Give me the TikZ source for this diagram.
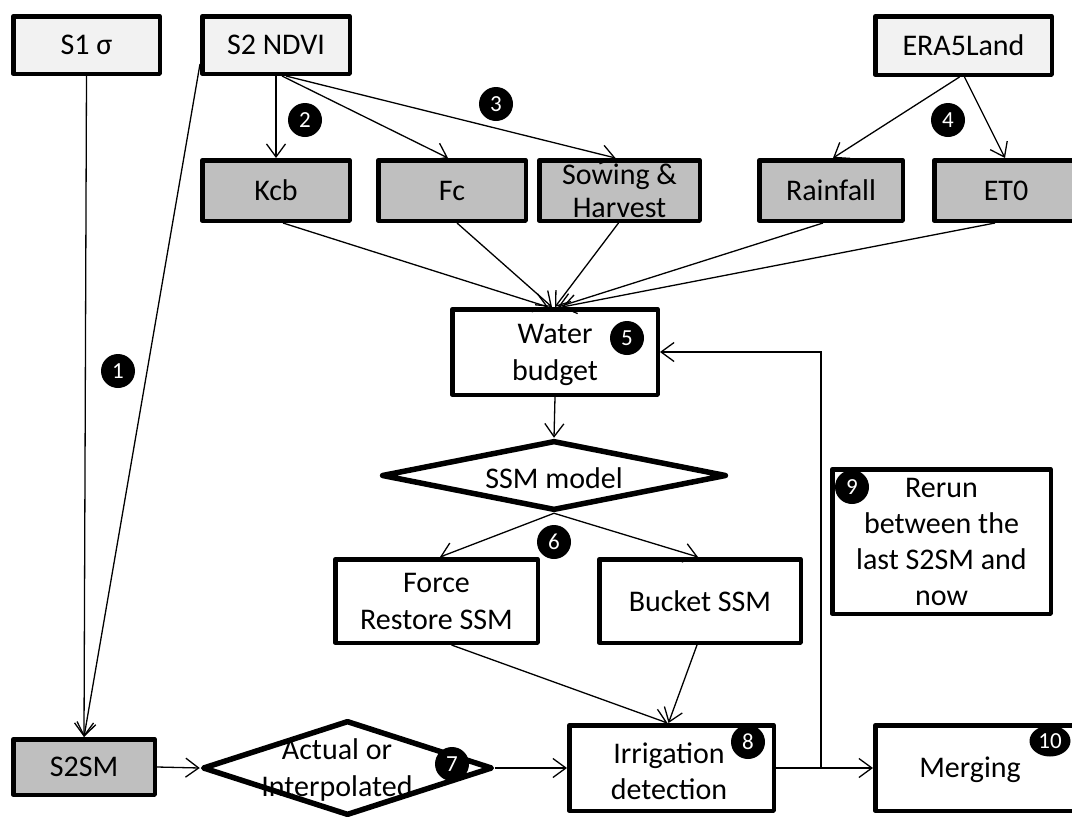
\documentclass[tikz,border=0pt]{standalone}
\usepackage{fontspec}
\setmainfont{Carlito}
\usetikzlibrary{shapes.geometric,arrows.meta,calc}
\definecolor{lightfill}{HTML}{F2F2F2}
\definecolor{midfill}{HTML}{BFBFBF}
\newcommand\bigtxt{\fontsize{30}{36}\selectfont}
\newcommand\numtxt{\fontsize{23}{23}\selectfont}
\tikzset{
  box/.style={draw=black, line width=4.5pt, line join=round, align=center,
    inner sep=0pt, text=black, font=\bigtxt},
  topbox/.style={box, fill=lightfill},
  midbox/.style={box, fill=midfill},
  dia/.style={diamond, draw=black, line width=5.5pt, line join=round, inner sep=0pt},
  txt/.style={align=center, inner sep=0pt, text=black, font=\bigtxt},
  num/.style={circle, fill=black, text=white, minimum size=34pt, inner sep=0pt, font=\numtxt},
  conn/.style={line width=1.3pt, -{Straight Barb[length=13pt,width=19pt]}},
  plain/.style={line width=1.3pt}
}
\begin{document}
\begin{tikzpicture}[x=1pt,y=-1pt]
\path[use as bounding box] (0,0) rectangle (1072,817);
\begin{scope}
\clip (0,0) rectangle (1072,817);
% top row
\node[topbox, minimum width=146.5pt, minimum height=57.5pt] (s1) at (86.5,45) {S1 σ};
\node[topbox, minimum width=147.5pt, minimum height=57.5pt] (s2) at (276,45) {S2 NDVI};
\node[topbox, minimum width=176.5pt, minimum height=58.5pt] (era) at (963.5,45.5) {ERA5Land};
% second row
\node[midbox, minimum width=147.5pt, minimum height=60.5pt] (kcb) at (276,190.5) {Kcb};
\node[midbox, minimum width=147.5pt, minimum height=60.5pt] (fc) at (452,190.5) {Fc};
\node[midbox, minimum width=160.5pt, minimum height=60.5pt, font=\fontsize{30}{33}\selectfont] (sow) at (619.5,190.5) {Sowing \&\\Harvest};
\node[midbox, minimum width=143.5pt, minimum height=60.5pt] (rain) at (831,190.5) {Rainfall};
\node[midbox, minimum width=143.5pt, minimum height=60.5pt] (et0) at (1006,190.5) {ET0};
% middle
\node[box, fill=white, minimum width=205.5pt, minimum height=85.5pt] (wb) at (555,352) {};
\node[txt, font=\fontsize{30}{37}\selectfont] (wbt) at (555,355) {Water\\budget};
\node[dia, fill=white, minimum width=345pt, minimum height=70pt] (ssm) at (554,475.5) {};
\node[txt] (ssmt) at (554,478) {SSM model};
\node[box, fill=white, minimum width=202.5pt, minimum height=83.5pt, font=\fontsize{30}{37}\selectfont] (force) at (436.5,601) {Force\\Restore SSM};
\node[box, fill=white, minimum width=201.5pt, minimum height=83.5pt] (bucket) at (700,601) {Bucket SSM};
\node[box, fill=white, minimum width=218.5pt, minimum height=144.5pt, font=\fontsize{30}{36}\selectfont] (rerun) at (941.5,541.5) {Rerun\\between the\\last S2SM and\\now};
% bottom row
\node[midbox, minimum width=141.5pt, minimum height=55.5pt] (s2sm) at (84,767) {S2SM};
\node[dia, fill=white, minimum width=290pt, minimum height=95pt] (act) at (347.5,768) {};
\node[txt, font=\fontsize{30}{37}\selectfont] (actt) at (337,770) {Actual or\\Interpolated};
\node[box, fill=white, minimum width=204.5pt, minimum height=85.5pt] (irr) at (671.5,768) {};
\node[txt, font=\fontsize{30}{36}\selectfont] (irrt) at (669,771) {Irrigation\\detection};
\node[box, fill=white, minimum width=202.5pt, minimum height=85.5pt] (merge) at (976.5,768) {};
\node[txt] (merget) at (970,770) {Merging};
% connectors
\draw[conn] (s1.south) -- (s2sm.north);
\draw[conn] ($(s2.south west)+(0,-12)$) -- (s2sm.north);
\draw[conn] (s2.south) -- (kcb.north);
\draw[conn] ($(s2.south)+(6,0)$) -- ($(fc.north)+(-4,0)$);
\draw[conn] ($(s2.south)+(10,0)$) -- ($(sow.north)+(-4,0)$);
\draw[conn] ($(era.south)+(-4,0)$) -- ($(rain.north)+(2,0)$);
\draw[conn] ($(era.south)+(1,0)$) -- ($(et0.north)+(-1,0)$);
\draw[conn] ($(kcb.south)+(7,0)$) -- ($(wb.north)+(-7,0)$);
\draw[conn] ($(fc.south)+(5,0)$) -- ($(wb.north)+(-3,0)$);
\draw[conn] ($(sow.south)+(-1,0)$) -- ($(wb.north)+(0,0)$);
\draw[conn] ($(rain.south)+(-8,0)$) -- ($(wb.north)+(3,0)$);
\draw[conn] ($(et0.south)+(-11,0)$) -- ($(wb.north)+(7,0)$);
\draw[conn] (wb.south) -- (ssm.north);
\draw[conn] (ssm.south) -- ($(force.north)+(3.5,0)$);
\draw[conn] (ssm.south) -- ($(bucket.north)+(-2,0)$);
\draw[conn] ($(force.south)+(15,0)$) -- ($(irr.north)+(-4,0)$);
\draw[conn] ($(bucket.south)+(-3,0)$) -- ($(irr.north)+(-3,0)$);
\draw[conn] (s2sm.east) -- (act.west);
\draw[conn] (act.east) -- (irr.west);
\draw[conn] (irr.east) -- (merge.west);
\coordinate (fb) at (821,768);
\draw[conn] (fb) |- (wb.east);
% step numbers
\node[num] (n1) at (118,371) {1};
\node[num] (n2) at (305,120) {2};
\node[num] (n3) at (496,104) {3};
\node[num] (n4) at (948,120) {4};
\node[num] (n5) at (627,338) {5};
\node[num] (n6) at (554,542) {6};
\node[num] (n7) at (452,764) {7};
\node[num] (n8) at (748,742) {8};
\node[num] (n9) at (852,487) {9};
\node[ellipse, fill=black, text=white, minimum width=41pt, minimum height=31pt, inner sep=0pt, font=\numtxt] (n10) at (1050,741) {10};
\end{scope}
\end{tikzpicture}
\end{document}
